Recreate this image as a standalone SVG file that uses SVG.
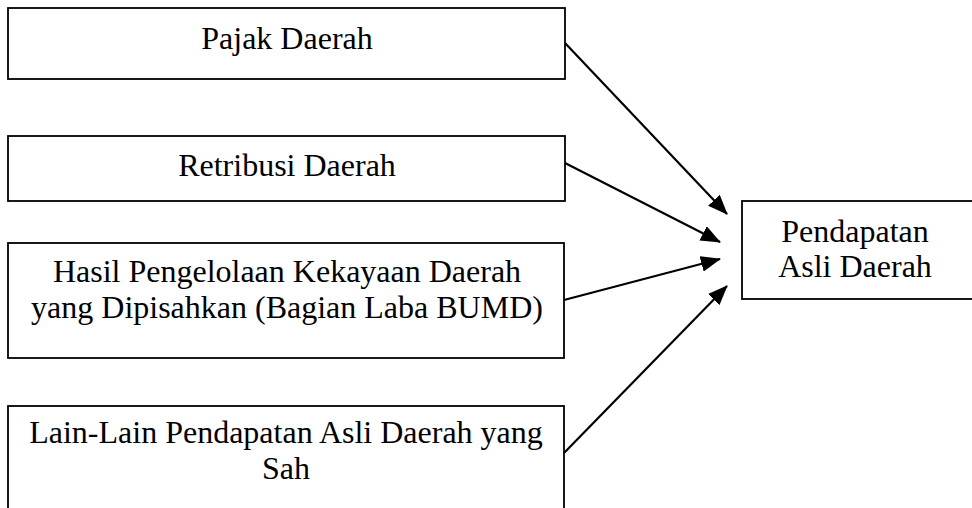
<svg xmlns="http://www.w3.org/2000/svg" width="972" height="508" viewBox="0 0 972 508">
<defs>
<style>
.box{fill:#fff;stroke:#000;stroke-width:1.8}
.t{font-family:"Liberation Serif","Times New Roman",serif;font-size:32px;fill:#000;text-anchor:middle}
.c{stroke:#000;stroke-width:2.2;fill:none;marker-end:url(#ah)}
</style>
<marker id="ah" markerUnits="userSpaceOnUse" markerWidth="20" markerHeight="16" viewBox="0 0 20 16" refX="19" refY="8" orient="auto">
<path d="M0,0 L20,8 L0,16 Z" fill="#000"/>
</marker>
</defs>
<rect width="972" height="508" fill="#fff"/>
<g id="pajak">
<rect class="box" x="8" y="8" width="557" height="71"/>
<text class="t" x="287" y="49">Pajak Daerah</text>
</g>
<g id="retribusi">
<rect class="box" x="8" y="136" width="557" height="65"/>
<text class="t" x="287" y="176">Retribusi Daerah</text>
</g>
<g id="hasil">
<rect class="box" x="8" y="243" width="556" height="115"/>
<text class="t" x="287" y="282">Hasil Pengelolaan Kekayaan Daerah</text>
<text class="t" x="287" y="318">yang Dipisahkan (Bagian Laba BUMD)</text>
</g>
<g id="lain">
<rect class="box" x="8" y="406" width="556" height="120"/>
<text class="t" x="286" y="443">Lain-Lain Pendapatan Asli Daerah yang</text>
<text class="t" x="286" y="479">Sah</text>
</g>
<g id="pad">
<rect class="box" x="742" y="201" width="240" height="98"/>
<text class="t" x="855" y="242">Pendapatan</text>
<text class="t" x="855" y="277">Asli Daerah</text>
</g>
<g id="connectors">
<line class="c" x1="565" y1="43" x2="727" y2="214"/>
<line class="c" x1="565" y1="163" x2="720" y2="242"/>
<line class="c" x1="564" y1="300" x2="720" y2="259"/>
<line class="c" x1="564" y1="453" x2="727" y2="286"/>
</g>
</svg>
